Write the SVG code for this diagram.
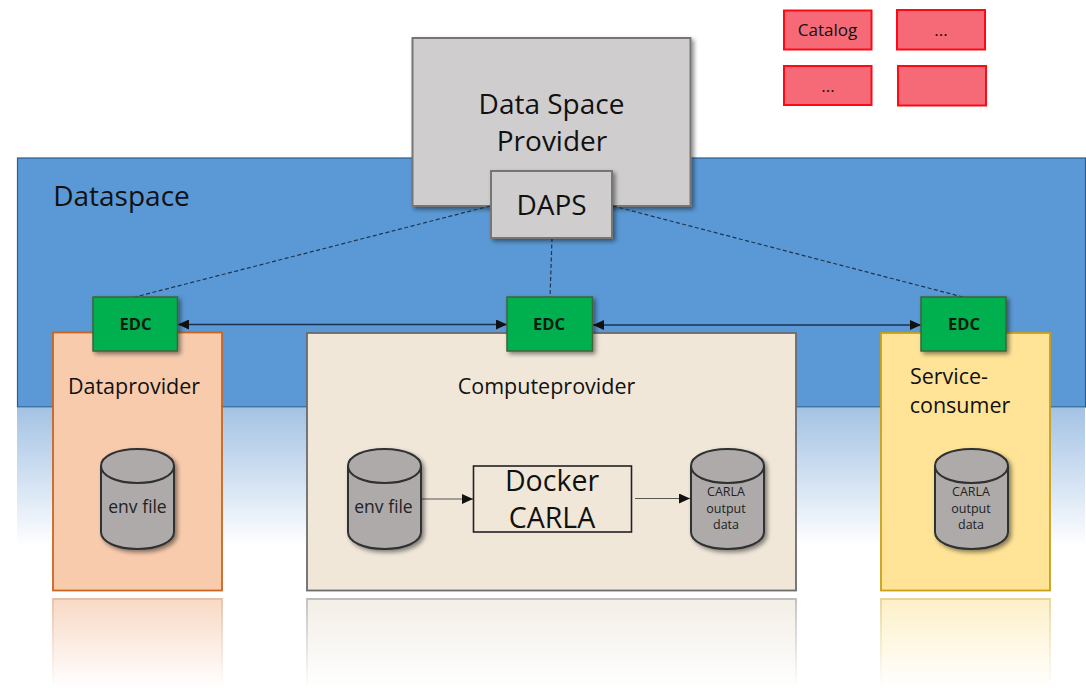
<svg xmlns="http://www.w3.org/2000/svg" width="1086" height="688" viewBox="0 0 1086 688">
<style>
text{font-family:"Open Sans","Noto Sans","Liberation Sans",sans-serif;fill:#111;text-anchor:middle}
.red rect{fill:#f66a78;stroke:#fe0a14;stroke-width:2}
.edc rect{fill:#00b050;stroke:#3f6338;stroke-width:1.5;filter:url(#sh)}
.edc text{font-size:16.500px;font-weight:700;fill:#0c1c10}
.gray{fill:#cfcdce;stroke:#767676;stroke-width:2}
.cyl text{fill:#222}
.cyl .lg{font-size:17.500px}
.cyl .sm{font-size:12.500px}
.label{font-size:21.500px}
.big{font-size:28px}
.small{font-size:17px}
.dash{stroke:#1f3550;stroke-width:1.2;stroke-dasharray:4 2.5;fill:none}
.link{stroke:#1d3350;stroke-width:1.4;fill:none;marker-start:url(#as);marker-end:url(#ae)}
.flow{stroke:#555;stroke-width:1.2;fill:none;marker-end:url(#ae)}
</style>
<defs>
<filter id="sh" x="-20%" y="-20%" width="150%" height="150%"><feDropShadow dx="2.5" dy="2.5" stdDeviation="2.2" flood-color="#000" flood-opacity="0.45"/></filter>
<linearGradient id="fade" x1="0" y1="0" x2="0" y2="1"><stop offset="0" stop-color="#a4c3e4"/><stop offset="0.55" stop-color="#d5e3f3"/><stop offset="1" stop-color="#fff"/></linearGradient>
<linearGradient id="rOr" x1="0" y1="0" x2="0" y2="1"><stop offset="0" stop-color="#f8d9c5"/><stop offset="1" stop-color="#fff"/></linearGradient>
<linearGradient id="rBe" x1="0" y1="0" x2="0" y2="1"><stop offset="0" stop-color="#f3eee6"/><stop offset="1" stop-color="#fff"/></linearGradient>
<linearGradient id="rYe" x1="0" y1="0" x2="0" y2="1"><stop offset="0" stop-color="#fdf0c8"/><stop offset="1" stop-color="#fff"/></linearGradient>
<linearGradient id="sOr" gradientUnits="userSpaceOnUse" x1="0" y1="599" x2="0" y2="688"><stop offset="0" stop-color="#e8bfa6"/><stop offset="1" stop-color="#fff"/></linearGradient>
<linearGradient id="sBe" gradientUnits="userSpaceOnUse" x1="0" y1="599" x2="0" y2="688"><stop offset="0" stop-color="#bdbdbd"/><stop offset="1" stop-color="#fff"/></linearGradient>
<linearGradient id="sYe" gradientUnits="userSpaceOnUse" x1="0" y1="599" x2="0" y2="688"><stop offset="0" stop-color="#e8d49a"/><stop offset="1" stop-color="#fff"/></linearGradient>
<marker id="ae" viewBox="0 0 11 10" refX="11" refY="5" markerWidth="11" markerHeight="10" markerUnits="userSpaceOnUse" orient="auto"><path d="M0 0L11 5L0 10Z" fill="#111"/></marker>
<marker id="as" viewBox="0 0 11 10" refX="0" refY="5" markerWidth="11" markerHeight="10" markerUnits="userSpaceOnUse" orient="auto"><path d="M11 0L0 5L11 10Z" fill="#111"/></marker>
<g id="cylbody" fill="#aeaaaa" stroke="#2f3030" stroke-width="2"><path d="M101 466V532C101 542 117 549 137.500 549S174 542 174 532V466C174 456 158 449 137.500 449S101 456 101 466Z" filter="url(#sh)"/><path d="M101 466C101 476 117 483 137.500 483S174 476 174 466" fill="none"/></g>
</defs>

<g id="dataspace">
<rect x="17" y="408" width="1068" height="138" fill="url(#fade)"/>
<rect x="17.500" y="158" width="1068" height="249" fill="#5a99d5" stroke="#2d5d8a" stroke-width="1.2"/>
<text x="121.500" y="206" class="big">Dataspace</text>
</g>

<g id="reflections">
<rect x="53" y="599" width="169" height="89" fill="url(#rOr)"/>
<path d="M53 688V599H222V688" fill="none" stroke="url(#sOr)" stroke-width="1.800"/>
<rect x="307" y="599" width="489" height="89" fill="url(#rBe)"/>
<path d="M307 688V599H796V688" fill="none" stroke="url(#sBe)" stroke-width="1.800"/>
<rect x="881" y="599" width="169" height="89" fill="url(#rYe)"/>
<path d="M881 688V599H1050V688" fill="none" stroke="url(#sYe)" stroke-width="1.800"/>
</g>

<g id="dataprovider">
<rect x="53" y="332.500" width="169" height="258" fill="#f8cbad" stroke="#c9651f" stroke-width="1.800"/>
<text x="134" y="394" class="label">Dataprovider</text>
</g>
<g id="computeprovider">
<rect x="307" y="333" width="489" height="257.500" fill="#f0e7d9" stroke="#6b6b6b" stroke-width="1.800"/>
<text x="546.500" y="394" class="label">Computeprovider</text>
</g>
<g id="serviceconsumer">
<rect x="881" y="333" width="169" height="257.500" fill="#ffe497" stroke="#c9a016" stroke-width="1.800"/>
<text x="949" y="384" class="label">Service-</text>
<text x="960" y="413" class="label">consumer</text>
</g>

<g id="data-space-provider">
<rect x="412.500" y="38" width="278" height="168" class="gray" filter="url(#sh)"/>
<text x="551.500" y="114" class="big">Data Space</text>
<text x="552" y="151" class="big">Provider</text>
</g>

<g id="connectors">
<path class="dash" d="M490 206L135 297"/>
<path class="dash" d="M552 238L550 297"/>
<path class="dash" d="M613 206L963 297"/>
<path class="link" d="M178 324.500H507"/>
<path class="link" d="M593 325H921"/>
<path class="flow" d="M421 499H473"/>
<path class="flow" d="M635 498.500H690"/>
</g>

<g id="daps">
<rect x="491" y="171" width="121" height="67" class="gray" filter="url(#sh)"/>
<text x="551.500" y="215" class="big">DAPS</text>
</g>

<g id="edc-1" class="edc"><rect x="93" y="297" width="84.500" height="54"/><text x="135.500" y="330">EDC</text></g>
<g id="edc-2" class="edc"><rect x="507" y="297" width="85.500" height="54"/><text x="549" y="330">EDC</text></g>
<g id="edc-3" class="edc"><rect x="921" y="297" width="85" height="54"/><text x="964" y="330">EDC</text></g>

<g id="db-env-1" class="cyl"><use href="#cylbody"/><text class="lg" x="137.500" y="513">env file</text></g>
<g id="db-env-2" class="cyl"><use href="#cylbody" x="247"/><text class="lg" x="383.500" y="513">env file</text></g>
<g id="db-carla-1" class="cyl"><use href="#cylbody" x="590"/><text class="sm" x="726" y="496">CARLA</text><text class="sm" x="726" y="512.500">output</text><text class="sm" x="726" y="529">data</text></g>
<g id="db-carla-2" class="cyl"><use href="#cylbody" x="834"/><text class="sm" x="971" y="496">CARLA</text><text class="sm" x="971" y="512.500">output</text><text class="sm" x="971" y="529">data</text></g>

<g id="docker">
<rect x="473.500" y="466" width="158" height="66" fill="none" stroke="#222" stroke-width="1.600"/>
<text x="552" y="491" style="font-size:28.500px">Docker</text>
<text x="552" y="528" style="font-size:28.500px">CARLA</text>
</g>

<g class="red">
<g id="catalog"><rect x="784" y="10.500" width="87.500" height="39"/><text x="827.500" y="36" class="small">Catalog</text></g>
<g id="more-1"><rect x="897" y="10" width="88" height="39.500"/><text x="941" y="36" class="small">...</text></g>
<g id="more-2"><rect x="784" y="66" width="87.500" height="39"/><text x="828" y="92" class="small">...</text></g>
<g id="more-3"><rect x="898" y="66" width="88" height="39.500"/></g>
</g>
</svg>
